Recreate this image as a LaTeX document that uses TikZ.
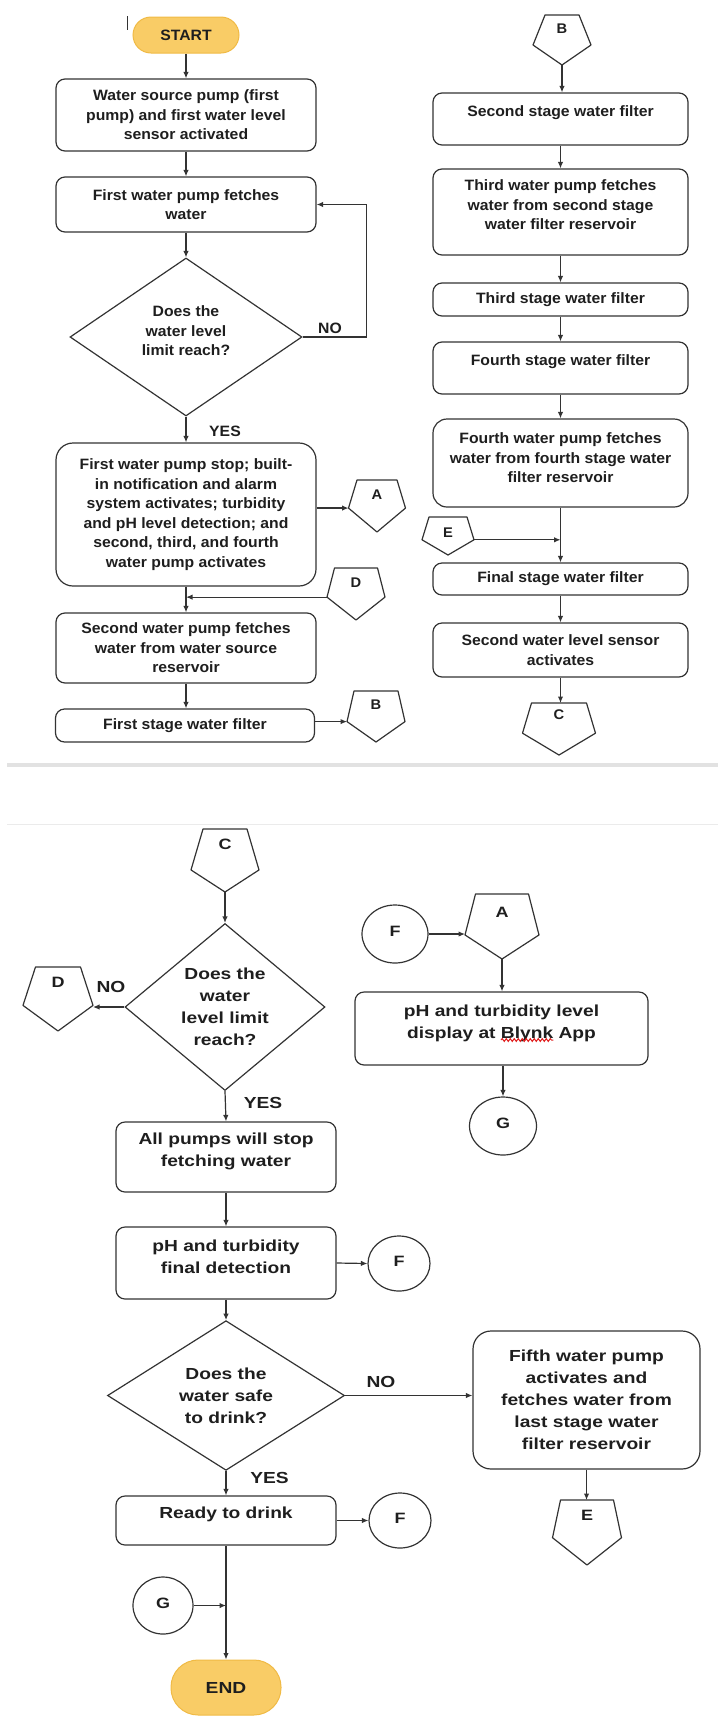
\documentclass[tikz,border=0pt]{standalone}
\usepackage{fontspec}
\setmainfont{Liberation Sans}
\newfontfamily\upf{Liberation Sans}[FakeStretch=1.05]
\newfontfamily\lowf{Liberation Sans}[FakeStretch=1.2]
\usetikzlibrary{arrows.meta,shapes.geometric,decorations.pathmorphing}
\definecolor{ink}{HTML}{1E1E1E}
\definecolor{edge}{HTML}{333333}
\definecolor{pill}{HTML}{F9CC66}
\definecolor{pillb}{HTML}{F0BA45}
\definecolor{sepband}{HTML}{E2E2E2}
\definecolor{spell}{HTML}{E02020}
\newcommand\uft{\upf\bfseries\fontsize{15}{19.5}\selectfont}
\newcommand\lft{\lowf\bfseries\fontsize{16}{22}\selectfont}
\newcommand\ulet{\upf\bfseries\fontsize{14}{16}\selectfont}
\newcommand\llet{\lowf\bfseries\fontsize{15}{17}\selectfont}
\newlength\wA \newlength\wB \newlength\wC
\tikzset{
  shp/.style={draw=edge, line width=1.2pt},
  arr/.style={draw=edge, line width=1.2pt, -{Latex[length=6.5pt,width=5.5pt]}},
  box/.style={shp, rectangle, rounded corners=9pt, inner sep=0pt},
  dia/.style={shp, diamond, inner sep=0pt},
  circ/.style={shp, ellipse, inner sep=0pt, text=ink},
  pillnode/.style={rectangle, rounded corners=18pt, fill=pill, draw=pillb, line width=1pt, inner sep=0pt, text=ink},
  ut/.style={align=center, text=ink, font=\uft, inner sep=0pt},
  lt/.style={align=center, text=ink, font=\lft, inner sep=0pt},
  plab/.style={text=ink, inner sep=0pt},
  wavy/.style={draw=spell, line width=1pt, decorate, decoration={snake, segment length=4pt, amplitude=1.4pt}},
}
% name, cx, top y, width, top width, height, side fraction, letter offset, letter
\newcommand\pent[9]{%
  \coordinate (#1-t) at (#2,#3);
  \coordinate (#1-l) at ({#2-#4/2},{#3+#7*#6});
  \coordinate (#1-r) at ({#2+#4/2},{#3+#7*#6});
  \coordinate (#1-b) at (#2,{#3+#6});
  \draw[shp, line join=round] ({#2-#5/2},#3) -- ({#2+#5/2},#3) -- (#1-r) -- (#1-b) -- (#1-l) -- cycle;
  \node[plab] (#1) at (#2,{#3+#8}) {#9};
}
\begin{document}
\settowidth\wA{\lft display at Blynk App}%
\settowidth\wB{\lft display at\ }%
\settowidth\wC{\lft Blynk}%
\pgfmathsetmacro\wx{501.5-0.5*\wA+\wB}%
\pgfmathsetmacro\wy{\wx+\wC}%
\begin{tikzpicture}[x=1pt, y=-1pt]
\useasboundingbox (0,0) rectangle (718,1716);

% page separator
\fill[sepband] (7,762.8) rectangle (718,767.4);
\draw[sepband!70, line width=0.8pt] (7,824) -- (718,824);

% stray mark
\draw[edge, line width=1pt] (127,16) -- (127,30);

% ---------------- upper left column
\node[pillnode, ut, minimum width=106pt, minimum height=36pt] (start) at (186,35) {START};
\node[box, ut, minimum width=260pt, minimum height=72pt] (b1) at (186,115) {Water source pump (first\\pump) and first water level\\sensor activated};
\node[box, ut, minimum width=260pt, minimum height=55pt] (b2) at (186,204.5) {First water pump fetches\\water};
\node[dia, minimum width=232pt, minimum height=158pt] (d1) at (186,337) {};
\node[ut] (d1t) at ([yshift=6pt]d1.center) {Does the\\water level\\limit reach?};
\node[box, rounded corners=17pt, ut, minimum width=260pt, minimum height=143pt] (b3) at (186,514.5) {First water pump stop; built-\\in notification and alarm\\system activates; turbidity\\and pH level detection; and\\second, third, and fourth\\water pump activates};
\node[box, ut, minimum width=260pt, minimum height=70pt] (b4) at (186,648) {Second water pump fetches\\water from water source\\reservoir};
\node[box, ut, minimum width=259pt, minimum height=33pt] (b5) at (185,725.5) {First stage water filter};

\node[ut] (no1) at (330,328) {NO};
\node[ut] (yes1) at (225,431) {YES};

\pent{pA1}{377}{480}{57}{40}{52}{0.54}{15}{\ulet A}
\pent{pD1}{356}{568}{58}{43}{52}{0.56}{15}{\ulet D}
\pent{pB1}{376}{691}{58}{44}{51}{0.6}{14}{\ulet B}

\draw[arr] (start) -- (b1);
\draw[arr] (b1) -- (b2);
\draw[arr] (b2) -- (d1.north);
\draw[arr] (d1.east) -- ++(64,0) |- (b2.east);
\draw[arr] (d1.south) -- (b3.north);
\draw[arr] (b3.east |- pA1-l) -- (pA1-l);
\draw[arr] (b3) -- (b4);
\draw[arr] (pD1-l) -- (pD1-l -| b4.north);
\draw[arr] (b4) -- (b4.south |- b5.north);
\draw[arr] (b5.east |- pB1-l) -- (pB1-l);

% ---------------- upper right column
\pent{pB2}{562}{15}{58}{34}{50}{0.6}{14}{\ulet B}
\node[box, minimum width=255pt, minimum height=52pt] (r1) at (560.5,119) {};
\node[ut] (r1t) at ([yshift=6pt]r1.center) {Second stage water filter};
\node[box, minimum width=255pt, minimum height=86pt] (r2) at (560.5,212) {};
\node[ut] (r2t) at ([yshift=7pt]r2.center) {Third water pump fetches\\water from second stage\\water filter reservoir};
\node[box, ut, minimum width=255pt, minimum height=33pt] (r3) at (560.5,299.5) {Third stage water filter};
\node[box, minimum width=255pt, minimum height=52pt] (r4) at (560.5,368) {};
\node[ut] (r4t) at ([yshift=6pt]r4.center) {Fourth stage water filter};
\node[box, rounded corners=14pt, minimum width=255pt, minimum height=88pt] (r5) at (560.5,463) {};
\node[ut] (r5t) at ([yshift=5pt]r5.center) {Fourth water pump fetches\\water from fourth stage water\\filter reservoir};
\node[box, ut, minimum width=255pt, minimum height=32pt] (r6) at (560.5,579) {Final stage water filter};
\node[box, ut, minimum width=255pt, minimum height=54pt] (r7) at (560.5,650) {Second water level sensor\\activates};
\pent{pE1}{448}{517}{52}{38}{38}{0.6}{16}{\ulet E}
\pent{pC1}{559}{703}{73}{55}{52}{0.58}{12}{\ulet C}

\draw[arr] (pB2-b) -- (pB2-b |- r1.north);
\draw[arr] (r1) -- (r2);
\draw[arr] (r2) -- (r3);
\draw[arr] (r3) -- (r4);
\draw[arr] (r4) -- (r5);
\draw[arr] (r5) -- (r6);
\draw[arr] (pE1-r) -- (pE1-r -| r6.north);
\draw[arr] (r6) -- (r7);
\draw[arr] (r7.south) -- (r7.south |- pC1-t);

% ---------------- lower left column
\pent{pC2}{225}{829}{68}{44}{63}{0.65}{15}{\llet C}
\node[dia, lt, minimum width=200pt, minimum height=167pt] (d2) at (225,1007) {Does the\\water\\level limit\\reach?};
\pent{pD2}{58}{967}{70}{45}{64}{0.6}{15}{\llet D}
\node[lt] (no2) at (111,987) {NO};
\node[lt] (yes2) at (263,1103) {YES};
\node[box, minimum width=220pt, minimum height=70pt] (l1) at (226,1157) {};
\node[lt] (l1t) at ([yshift=6pt]l1.center) {All pumps will stop\\fetching water};
\node[box, minimum width=220pt, minimum height=72pt] (l2) at (226,1263) {};
\node[lt] (l2t) at ([yshift=6pt]l2.center) {pH and turbidity\\final detection};
\node[circ, font=\llet, minimum width=62pt, minimum height=55pt] (f1) at (399,1263.5) {\raisebox{5pt}{F}};
\node[dia, lt, minimum width=237pt, minimum height=135pt] (d3) at (226,1395.5) {Does the\\water safe\\to drink?};
\node[lt] (no3) at (381,1382) {NO};
\node[lt] (yes3) at (269.5,1478) {YES};
\node[box, rounded corners=18pt, lt, minimum width=227pt, minimum height=138pt] (fifth) at (586.5,1400) {Fifth water pump\\activates and\\fetches water from\\last stage water\\filter reservoir};
\pent{pE2}{587}{1500}{69}{53}{65}{0.58}{15}{\llet E}
\node[box, minimum width=220pt, minimum height=49pt] (l3) at (226,1520.5) {};
\node[lt] (l3t) at ([yshift=6.5pt]l3.center) {Ready to drink};
\node[circ, font=\llet, minimum width=62pt, minimum height=55pt] (f2) at (400,1520.5) {\raisebox{5pt}{F}};
\node[circ, font=\llet, minimum width=60pt, minimum height=57pt] (g2) at (163,1605.5) {\raisebox{5pt}{G}};
\node[pillnode, lt, rounded corners=27pt, minimum width=110pt, minimum height=55pt] (end) at (226,1687.5) {END};

\draw[arr] (pC2-b) -- (pC2-b |- d2.north);
\draw[arr] (d2.west) -- (d2.west -| pD2-r);
\draw[arr] (d2.south) -- (l1.north);
\draw[arr] (l1) -- (l2);
\draw[arr] (l2.east) -- (f1.west);
\draw[arr] (l2.south) -- (d3.north);
\draw[arr] (d3.east) -- (fifth.west |- d3.east);
\draw[arr] (fifth.south) -- (fifth.south |- pE2-t);
\draw[arr] (d3.south) -- (l3.north);
\draw[arr] (l3.east |- f2.west) -- (f2.west);
\draw[arr] (l3.south) -- (end.north);
\draw[arr] (g2.east) -- (g2.east -| l3.south);

% ---------------- lower right column
\node[circ, font=\llet, minimum width=66pt, minimum height=58pt] (f3) at (395,934) {\raisebox{5pt}{F}};
\pent{pA2}{502}{894}{74}{53}{65}{0.63}{18}{\llet A}
\node[box, minimum width=293pt, minimum height=73pt] (blynk) at (501.5,1028.5) {};
\node[lt] (blynkt) at ([yshift=5pt]blynk.center) {pH and turbidity level\\display at Blynk App};
\coordinate (wave-a) at (\wx,1040);
\coordinate (wave-b) at (\wy,1040);
\draw[wavy] (wave-a) -- (wave-b);
\node[circ, font=\llet, minimum width=67pt, minimum height=58pt] (g1) at (503,1126) {\raisebox{5pt}{G}};

\draw[arr] (f3.east) -- (f3.east -| pA2-l);
\draw[arr] (pA2-b) -- (pA2-b |- blynk.north);
\draw[arr] (blynk.south -| g1.north) -- (g1.north);
\end{tikzpicture}
\end{document}
